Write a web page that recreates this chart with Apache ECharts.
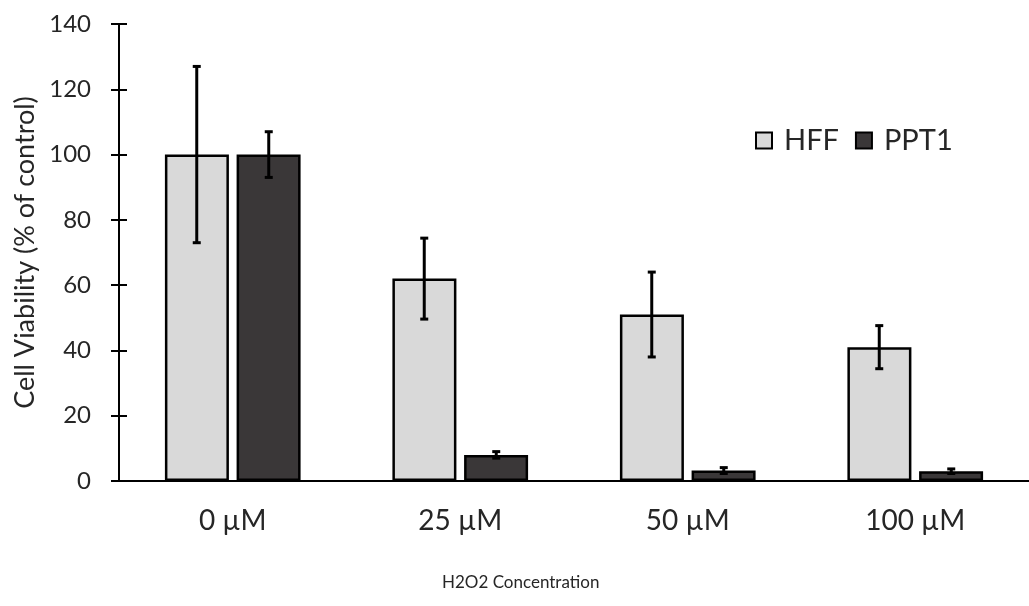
<!DOCTYPE html>
<html><head><meta charset="utf-8">
<script src="https://cdn.jsdelivr.net/npm/echarts@6/dist/echarts.min.js"></script>
<style>html,body{margin:0;padding:0;background:#fff}#c{width:1029px;height:606px}</style>
</head><body><div id="c"></div>
<script>
const categories = ['0 µM', '25 µM', '50 µM', '100 µM'];
const hffMean = [100, 62, 51, 41];
const hffErr = [27, 12.4, 13, 6.6];
const ppt1Mean = [100, 8, 3.2, 3];
const ppt1Err = [7, 1, 0.9, 0.7];
const yTicks = [0, 20, 40, 60, 80, 100, 120, 140];

const FONT = 'Lato, "Open Sans", sans-serif';
const TXT = '#262626';
const chart = echarts.init(document.getElementById('c'));

function errSeries(means, errs, offset) {
  return {
    type: 'custom',
    silent: true,
    z: 10,
    data: means.map((m, i) => [i, m, errs[i]]),
    renderItem: function (params, api) {
      const i = api.value(0), m = api.value(1), e = api.value(2);
      const top = api.coord([i, m + e]);
      const bot = api.coord([i, m - e]);
      const x = top[0] + offset;
      const cap = 4;
      const st = { stroke: '#000', lineWidth: 3 };
      return {
        type: 'group',
        children: [
          { type: 'line', shape: { x1: x, y1: top[1], x2: x, y2: bot[1] }, style: st },
          { type: 'line', shape: { x1: x - cap, y1: top[1], x2: x + cap, y2: top[1] }, style: st },
          { type: 'line', shape: { x1: x - cap, y1: bot[1], x2: x + cap, y2: bot[1] }, style: st }
        ]
      };
    }
  };
}

chart.setOption({
  animation: false,
  backgroundColor: '#fff',
  textStyle: { fontFamily: FONT },
  grid: { left: 119, top: 24, bottom: 125, right: -6, containLabel: false },
  legend: {
    left: 750, top: 121,
    itemWidth: 16, itemHeight: 16, itemGap: 16,
    textStyle: { fontSize: 29, color: TXT, fontFamily: FONT, padding: [0, 0, 0, 7] },
    data: [
      { name: 'HFF', icon: 'rect', itemStyle: { color: '#d9d9d9', borderColor: '#000', borderWidth: 2 } },
      { name: 'PPT1', icon: 'rect', itemStyle: { color: '#3a3738', borderColor: '#000', borderWidth: 2 } }
    ]
  },
  xAxis: {
    type: 'category',
    data: categories,
    axisLine: { lineStyle: { color: '#000', width: 2 } },
    axisTick: { show: false },
    axisLabel: { fontSize: 28, color: TXT, margin: 26, fontFamily: FONT }
  },
  yAxis: [{
    type: 'value', min: 0, max: 140, interval: 20,
    name: 'Cell Viability (% of control)',
    nameLocation: 'middle', nameGap: 80,
    nameTextStyle: { fontSize: 27, color: TXT, fontFamily: FONT },
    axisLine: { show: true, lineStyle: { color: '#000', width: 2 } },
    axisTick: { show: true, length: 8, lineStyle: { color: '#000', width: 2 } },
    axisLabel: { fontSize: 24, color: TXT, margin: 28, fontFamily: FONT,
      formatter: v => yTicks.includes(v) ? String(v) : '' },
    splitLine: { show: false }
  }, {
    type: 'value', min: 0, max: 140, interval: 20, position: 'left',
    axisLine: { show: false },
    axisTick: { show: true, inside: true, length: 8, lineStyle: { color: '#000', width: 2 } },
    axisLabel: { show: false },
    splitLine: { show: false }
  }],
  series: [
    { name: 'HFF', type: 'bar', data: hffMean, barWidth: 64, barGap: '12%',
      itemStyle: { color: '#d9d9d9', borderColor: '#000', borderWidth: 2.5 } },
    { name: 'PPT1', type: 'bar', data: ppt1Mean, barWidth: 64, barGap: '12%',
      itemStyle: { color: '#3a3738', borderColor: '#000', borderWidth: 2.5 } },
    errSeries(hffMean, hffErr, -36),
    errSeries(ppt1Mean, ppt1Err, 36)
  ],
  graphic: [{
    type: 'text', left: 442, top: 574,
    style: { text: 'H2O2 Concentration', fontSize: 17, fill: TXT, fontFamily: FONT }
  }]
});
</script></body></html>
